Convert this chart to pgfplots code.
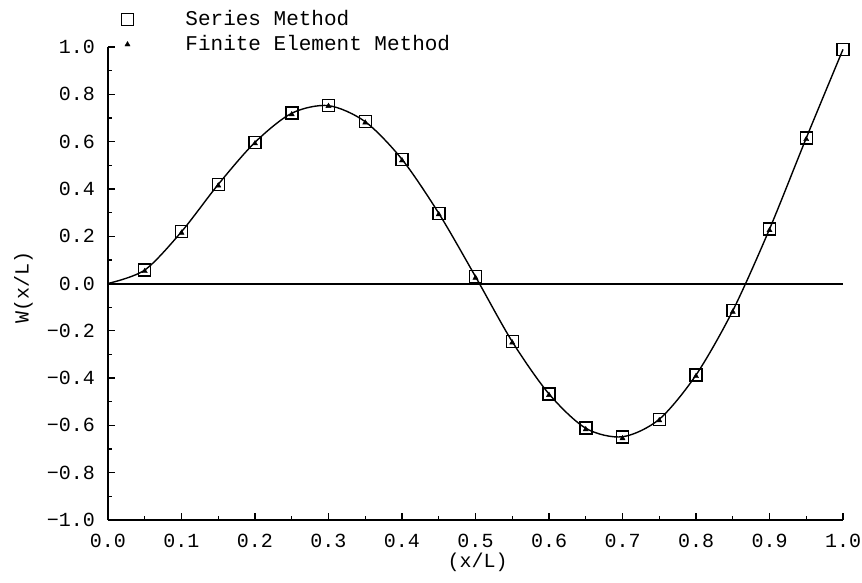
\documentclass[border=0pt]{standalone}
\usepackage{pgfplots}
\usepackage{pgfplotstable}
\pgfplotsset{compat=1.18}
\usepackage{fontspec}
\setmainfont{Liberation Mono}

\pgfplotstableread{
x y
0.00 0.000
0.05 0.057
0.10 0.219
0.15 0.419
0.20 0.597
0.25 0.720
0.30 0.752
0.35 0.684
0.40 0.525
0.45 0.297
0.50 0.029
0.55 -0.246
0.60 -0.467
0.65 -0.612
0.70 -0.648
0.75 -0.574
0.80 -0.387
0.85 -0.115
0.90 0.230
0.95 0.615
1.00 0.990
}\curvedata

\pgfplotstableread{
x y
0.05 0.057
0.10 0.219
0.15 0.419
0.20 0.597
0.25 0.720
0.30 0.752
0.35 0.684
0.40 0.525
0.45 0.297
0.50 0.029
0.55 -0.246
0.60 -0.467
0.65 -0.612
0.70 -0.648
0.75 -0.574
0.80 -0.387
0.85 -0.115
0.90 0.230
0.95 0.615
1.00 0.990
}\seriesdata

\pgfplotstableread{
x y
0.05 0.052
0.10 0.214
0.15 0.414
0.20 0.592
0.25 0.715
0.30 0.750
0.35 0.680
0.40 0.520
0.45 0.292
0.50 0.024
0.55 -0.250
0.60 -0.472
0.65 -0.617
0.70 -0.655
0.75 -0.579
0.80 -0.392
0.85 -0.120
0.90 0.225
0.95 0.610
}\femdata

\begin{document}
\begin{tikzpicture}
\begin{axis}[
  scale only axis, width=735pt, height=473pt,
  xmin=0, xmax=1, ymin=-1, ymax=1,
  axis x line=bottom, axis y line=left,
  axis line style={-, line width=2.6pt, black},
  tick align=inside,
  xtick={0,0.1,0.2,0.3,0.4,0.5,0.6,0.7,0.8,0.9,1.0},
  xticklabels={0.0,0.1,0.2,0.3,0.4,0.5,0.6,0.7,0.8,0.9,1.0},
  minor xtick={0.05,0.15,0.25,0.35,0.45,0.55,0.65,0.75,0.85,0.95},
  ytick={-1,-0.8,-0.6,-0.4,-0.2,0,0.2,0.4,0.6,0.8,1.0},
  yticklabels={−1.0,−0.8,−0.6,−0.4,−0.2,0.0,0.2,0.4,0.6,0.8,1.0},
  minor ytick={-0.9,-0.7,-0.5,-0.3,-0.1,0.1,0.3,0.5,0.7,0.9},
  major tick length=7pt, minor tick length=4pt,
  tick style={black, line width=1.3pt},
  ticklabel style={font=\fontsize{20}{24}\selectfont, inner sep=0pt},
  xticklabel style={yshift=-14pt},
  yticklabel style={xshift=-13pt},
  xlabel={(x/L)},
  xlabel style={at={(axis description cs:0.503,0)}, anchor=center, yshift=-42pt, font=\fontsize{20}{24}\selectfont},
  ylabel={W(x/L)},
  ylabel style={at={(axis description cs:-0.115,0.492)}, anchor=center, font=\fontsize{20}{24}\selectfont},
  clip=false,
  legend style={draw=none, fill=none, inner sep=0pt, outer sep=0pt,
    at={(axis description cs:0,1)}, anchor=north west, xshift=13.5pt, yshift=37pt,
    font=\fontsize{21}{25}\selectfont, row sep=6pt,
    nodes={inner sep=0pt, text height=15pt, text depth=4pt},
    /tikz/every odd column/.append style={column sep=52pt}},
  legend cell align=left,
]
\addplot[black, line width=2pt, forget plot] coordinates {(0,0) (1,0)};
\addplot[black, line width=1.4pt, smooth, forget plot] table[x=x,y=y]{\curvedata};
\addplot[only marks, mark=square, mark size=6pt, mark options={line width=1.5pt, black}] table[x=x,y=y]{\seriesdata};
\addplot[only marks, mark=triangle*, mark size=3pt, mark options={black}] table[x=x,y=y]{\femdata};
\legend{Series Method, Finite Element Method}
\end{axis}
\pgfresetboundingbox
\path (current axis.south west) ++(-108pt,-62pt) rectangle ++(862pt,582pt);
\end{tikzpicture}
\end{document}
